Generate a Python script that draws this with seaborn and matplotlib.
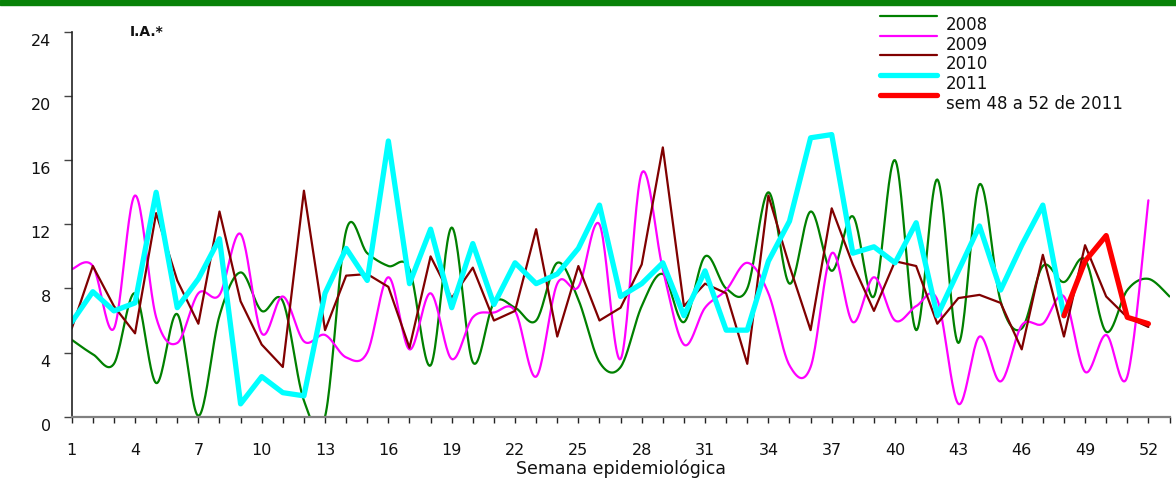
import numpy as np
import pandas as pd
import matplotlib
matplotlib.use("Agg")
import matplotlib.pyplot as plt
from matplotlib.lines import Line2D
from matplotlib.patches import Rectangle
from matplotlib.legend_handler import HandlerLine2D
from matplotlib.transforms import ScaledTranslation
import seaborn as sns

# Incidence (I.A.*) per epidemiological week
y2008 = [4.8, 3.9, 3.3, 7.7, 2.1, 6.4, 0.05, 6.3, 9.0, 6.6, 7.2, 1.0, 0.0, 11.6,
         10.2, 9.4, 9.2, 3.2, 11.8, 3.4, 7.1, 6.8, 6.0, 9.6, 7.3, 3.4, 3.1, 6.9,
         8.9, 5.9, 10.0, 8.0, 8.0, 14.0, 8.3, 12.8, 9.1, 12.5, 7.5, 16.0, 5.4,
         14.8, 4.6, 14.5, 7.2, 5.5, 9.4, 8.4, 9.8, 5.3, 7.9, 8.6, 7.5]
y2009 = [9.2, 9.4, 5.5, 13.8, 6.2, 4.6, 7.7, 7.6, 11.4, 5.2, 7.5, 4.7, 5.1, 3.7,
         4.0, 8.7, 4.2, 7.7, 3.6, 6.2, 6.5, 6.6, 2.5, 8.3, 8.1, 12.0, 3.6, 15.2,
         9.2, 4.5, 6.8, 7.9, 9.6, 7.7, 3.2, 3.1, 10.2, 5.9, 8.7, 6.0, 6.9, 7.3,
         0.8, 5.0, 2.2, 5.7, 5.8, 7.5, 2.8, 5.1, 2.5, 13.5]
y2010 = [5.5, 9.4, 6.9, 5.2, 12.7, 8.5, 5.8, 12.8, 7.2, 4.5, 3.1, 14.1, 5.4, 8.8,
         8.9, 8.1, 4.3, 10.0, 7.4, 9.3, 6.0, 6.6, 11.7, 5.0, 9.4, 6.0, 6.8, 9.5,
         16.8, 6.9, 8.3, 7.7, 3.3, 13.8, 9.4, 5.4, 13.0, 9.5, 6.6, 9.7, 9.4, 5.8,
         7.4, 7.6, 7.1, 4.2, 10.1, 5.0, 10.7, 7.5, 6.2, 5.6]
y2011 = [5.9, 7.8, 6.6, 7.1, 14.0, 6.8, 8.6, 11.1, 0.8, 2.5, 1.5, 1.3, 7.7, 10.5,
         8.5, 17.2, 8.3, 11.7, 6.8, 10.8, 7.0, 9.6, 8.3, 8.9, 10.5, 13.2, 7.5,
         8.3, 9.6, 6.3, 9.1, 5.4, 5.4, 9.7, 12.2, 17.4, 17.6, 10.2, 10.6, 9.6,
         12.1, 6.3, 9.1, 11.9, 7.9, 10.7, 13.2, 6.3]
weeks_last = [48, 49, 50, 51, 52]
y2011_last = [6.3, 9.7, 11.3, 6.2, 5.8]

series_labels = ["2008", "2009", "2010", "2011", "sem 48 a 52 de 2011"]
x_tick_labels = list(range(1, 53, 3))
y_ticks = [0, 4, 8, 12, 16, 20, 24]


def smooth(x, y, steps=24):
    """Catmull-Rom curve through every (x, y) point."""
    p = np.column_stack([x, y]).astype(float)
    pts = np.vstack([p[0], p, p[-1]])
    t = np.linspace(0, 1, steps, endpoint=False)[:, None]
    out = []
    for i in range(1, len(pts) - 2):
        p0, p1, p2, p3 = pts[i - 1], pts[i], pts[i + 1], pts[i + 2]
        seg = 0.5 * ((2 * p1) + (-p0 + p2) * t + (2 * p0 - 5 * p1 + 4 * p2 - p3) * t ** 2
                     + (-p0 + 3 * p1 - 3 * p2 + p3) * t ** 3)
        out.append(seg)
    out.append(p[-1][None, :])
    c = np.vstack(out)
    return c[:, 0], c[:, 1]


class RaisedLine(HandlerLine2D):
    """Legend line drawn a little above its label."""
    def create_artists(self, legend, orig_handle, xdescent, ydescent,
                       width, height, fontsize, trans):
        arts = super().create_artists(legend, orig_handle, xdescent, ydescent,
                                      width, height, fontsize, trans)
        for a in arts:
            a.set_ydata(np.asarray(a.get_ydata(), dtype=float) + 0.5 * fontsize)
        return arts


sns.set_style("white")
plt.rcParams["font.family"] = ["DejaVu Sans"]

fig = plt.figure(figsize=(11.76, 4.79), dpi=100)
ax = fig.add_axes([71.7 / 1176, 1 - 416.7 / 479, (1169.5 - 71.7) / 1176, (416.7 - 32) / 479])

colors = {"2008": "#008000", "2009": "#ff00ff", "2010": "#800000",
          "2011": "#00ffff", "last": "#ff0000"}

w08 = np.arange(1, len(y2008) + 1)
w09 = np.arange(1, len(y2009) + 1)
w10 = np.arange(1, len(y2010) + 1)
w11 = np.arange(1, len(y2011) + 1)

sx, sy = smooth(w08, y2008)
sns.lineplot(x=sx, y=sy, ax=ax, color=colors["2008"], lw=1.6, sort=False, estimator=None)
sx, sy = smooth(w09, y2009)
sns.lineplot(x=sx, y=sy, ax=ax, color=colors["2009"], lw=1.6, sort=False, estimator=None)
sns.lineplot(x=w10, y=y2010, ax=ax, color=colors["2010"], lw=1.6, sort=False, estimator=None)
sns.lineplot(x=w11, y=y2011, ax=ax, color=colors["2011"], lw=3.8, sort=False, estimator=None)
sns.lineplot(x=weeks_last, y=y2011_last, ax=ax, color=colors["last"], lw=3.8,
             sort=False, estimator=None)

ax.set_xlim(1, 53)
ax.set_ylim(0, 24)

# axes styling
for s in ["top", "right"]:
    ax.spines[s].set_visible(False)
ax.spines["left"].set_color("#222222")
ax.spines["left"].set_linewidth(1.2)
ax.spines["bottom"].set_color("#808080")
ax.spines["bottom"].set_linewidth(1.6)

ax.set_xticks(range(1, 54))
ax.set_xticklabels([str(w) if w in x_tick_labels else "" for w in range(1, 54)])
ax.set_yticks(y_ticks)
ax.set_yticklabels([str(v) for v in y_ticks])
ax.tick_params(axis="x", direction="out", length=4, width=1, color="#222222",
               pad=15, labelsize=11.5, labelcolor="#111111")
ax.tick_params(axis="y", direction="out", length=6, width=1, color="#444444",
               pad=9, labelsize=11.5, labelcolor="#111111")
ax.tick_params(left=True, bottom=True)
for lab in ax.get_yticklabels():
    lab.set_transform(lab.get_transform() + ScaledTranslation(0, -0.08, fig.dpi_scale_trans))

ax.set_xlabel("")
ax.set_ylabel("")
fig.text(620.6 / 1176, 1 - 469 / 479, "Semana epidemiológica", ha="center", va="center",
         fontsize=12.5, color="#111111")
ax.text(3.76, 24.0, "I.A.*", ha="left", va="center", fontsize=10, fontweight="bold",
        color="#111111")

handles = [Line2D([], [], color=colors["2008"], lw=1.6),
           Line2D([], [], color=colors["2009"], lw=1.6),
           Line2D([], [], color=colors["2010"], lw=1.6),
           Line2D([], [], color=colors["2011"], lw=3.8),
           Line2D([], [], color=colors["last"], lw=3.8)]
leg = fig.legend(handles, series_labels, loc="upper left",
                 bbox_to_anchor=(880 / 1176, 1 - 16 / 479),
                 frameon=False, fontsize=12, handlelength=3.4, handletextpad=0.55,
                 labelspacing=0.1, borderpad=0, borderaxespad=0,
                 handler_map={Line2D: RaisedLine()})
for t in leg.get_texts():
    t.set_color("#111111")

# green band along the top edge
fig.patches.append(Rectangle((0, 1 - 4.5 / 479), 1, 4.5 / 479, transform=fig.transFigure,
                             color="#088208", zorder=5))

fig.savefig("out.png", dpi=100)
